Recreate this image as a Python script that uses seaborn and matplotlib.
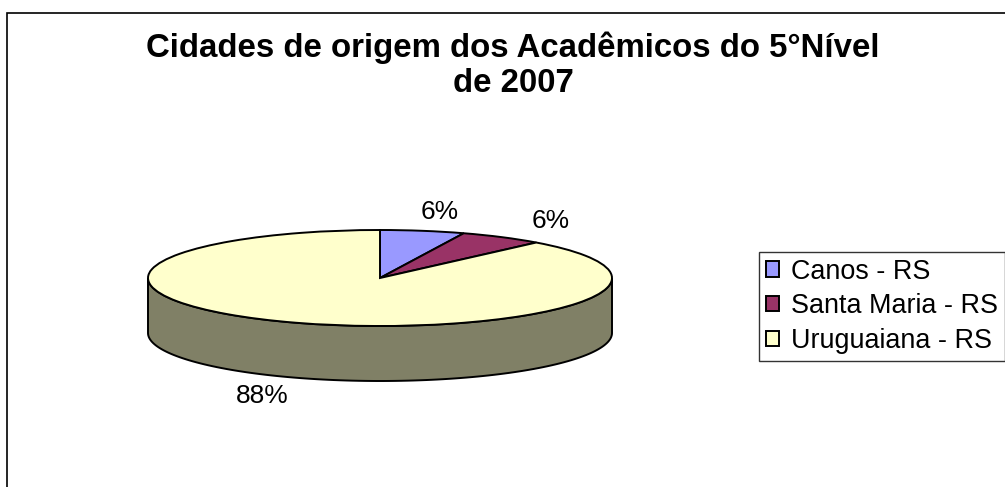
import numpy as np
import matplotlib.pyplot as plt
from matplotlib.patches import Polygon, Rectangle
import seaborn as sns

cities = ["Canos - RS", "Santa Maria - RS", "Uruguaiana - RS"]
students = [1, 1, 15]
colors = ["#9999FF", "#993366", "#FFFFCC"]
side_colors = ["#4D4D80", "#4D1A33", "#808066"]
title_lines = ["Cidades de origem dos Acadêmicos do 5°Nível", "de 2007"]

sns.set_theme(style="white")
plt.rcParams["font.family"] = ["Liberation Sans", "DejaVu Sans"]
plt.rcParams["text.color"] = "black"

W, H = 1005, 487
fig = plt.figure(figsize=(W / 100, H / 100), dpi=100)
ax = fig.add_axes([0, 0, 1, 1])

# ---------------------------------------------------------
# squashed pie (pixel geometry of the excel "3d" pie)
# ---------------------------------------------------------
cx, cy = 380, 209      # centre, measured from bottom-left
rx, ry = 232, 48       # half axes of the top ellipse
depth = 55 / ry        # height of the side wall, in y units

wedges, texts, autotexts = ax.pie(
    students, colors=colors, startangle=90, counterclock=False,
    autopct="%1.0f%%", pctdistance=1.4,
    wedgeprops=dict(edgecolor="black", linewidth=1.4),
    textprops=dict(fontsize=19, color="black"),
)

# side wall: only the front half (sin < 0) is visible
for w, c in zip(wedges, side_colors):
    for k in (-1, 0, 1):
        a = max(w.theta1, 180 + 360 * k)
        b = min(w.theta2, 360 + 360 * k)
        if b <= a:
            continue
        t = np.radians(np.linspace(a, b, 120))
        top = np.column_stack([np.cos(t), np.sin(t)])
        bot = np.column_stack([np.cos(t), np.sin(t) - depth])[::-1]
        ax.add_patch(Polygon(np.vstack([top, bot]), closed=True, facecolor=c,
                             edgecolor="black", linewidth=1.4, zorder=0.5))

# labels on the front drop below the wall
for t in autotexts:
    x, y = t.get_position()
    if y < 0:
        t.set_position((x, y - depth))

ax.set_xlim(-cx / rx, (W - cx) / rx)
ax.set_ylim(-cy / ry, (H - cy) / ry)
ax.set_aspect("auto")
ax.axis("off")

# ---------------------------------------------------------
# legend, title, chart frame
# ---------------------------------------------------------
leg = ax.legend(wedges, cities, loc="upper left",
                bbox_to_anchor=(759 / W, 1 - 252 / H), bbox_transform=fig.transFigure,
                frameon=True, fancybox=False, edgecolor="black", fontsize=19.4,
                handlelength=0.5, handleheight=0.5, handletextpad=0.45,
                labelspacing=0.32, borderaxespad=0, borderpad=0.25)
leg.get_frame().set_linewidth(1.0)

fig.text(513 / W, 1 - 57 / H, title_lines[0], ha="center", va="baseline",
         fontsize=23.8, fontweight="bold", color="black")
fig.text(513 / W, 1 - 92 / H, title_lines[1], ha="center", va="baseline",
         fontsize=23.8, fontweight="bold", color="black")

fig.add_artist(Rectangle((7 / W, -0.1), 1.2, 1 - 13 / H + 0.1, transform=fig.transFigure,
                         fill=False, edgecolor="black", linewidth=1.2))

fig.savefig("out.png", dpi=100)
